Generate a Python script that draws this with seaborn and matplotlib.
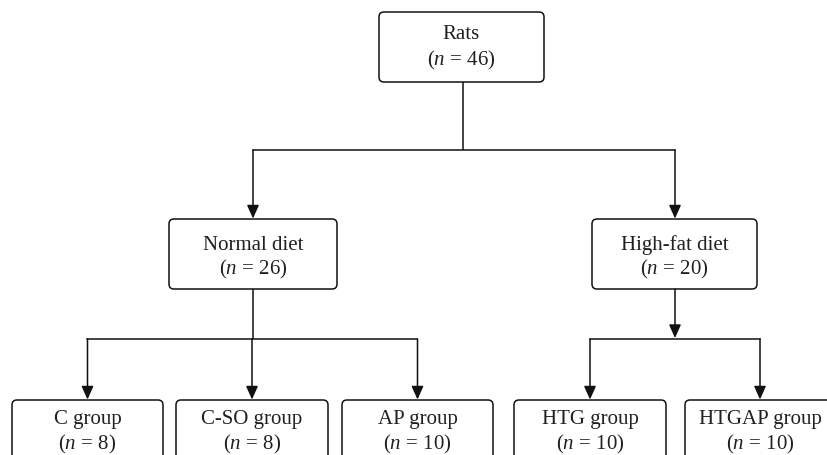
import matplotlib
matplotlib.use("Agg")
import matplotlib.pyplot as plt
from matplotlib.patches import FancyBboxPatch
import seaborn as sns

# ---- data ----
node_labels = ["Rats", "Normal diet", "High-fat diet",
               "C group", "C-SO group", "AP group", "HTG group", "HTGAP group"]
node_counts = [46, 26, 20, 8, 8, 10, 10, 10]
node_parent = [None, 0, 0, 1, 1, 1, 2, 2]
node_level = [0, 1, 1, 2, 2, 2, 2, 2]

# ---- layout (pixels, y downwards) ----
node_cx = [461.5, 253, 674.5, 87.5, 252, 417.5, 590, 760]
node_w = [165, 168, 165, 151, 152, 151, 152, 150]
level_top = [12, 219, 400]
level_h = [70, 70, 72]
level_base1 = [39, 250, 424]
level_base2 = [65, 274.5, 449.5]
bus_y = {0: 150, 1: 339, 2: 339}
stem_x = {0: 463, 1: 253, 2: 675}
stem_arrow = {0: False, 1: False, 2: True}

sns.set_theme(style="white")
plt.rcParams["font.family"] = ["Liberation Serif", "DejaVu Serif"]
plt.rcParams["mathtext.fontset"] = "custom"
plt.rcParams["mathtext.rm"] = "Liberation Serif"
plt.rcParams["mathtext.it"] = "Liberation Serif:italic"

W, H = 828, 455
fig = plt.figure(figsize=(W / 100, H / 100), dpi=100)
ax = fig.add_axes([0, 0, 1, 1])
ax.set_xlim(0, W)
ax.set_ylim(H, 0)
ax.axis("off")

LINE = "#111111"
TXT = "#231f20"
LW = 1.1

def arrow(x, y0, y1):
    ax.annotate("", xy=(x, y1), xytext=(x, y0),
                arrowprops=dict(arrowstyle="-|>,head_length=0.8,head_width=0.36",
                                mutation_scale=10, lw=LW, color=LINE,
                                shrinkA=0, shrinkB=0))

# boxes and text
for i, (lab, cnt) in enumerate(zip(node_labels, node_counts)):
    lv = node_level[i]
    x0 = node_cx[i] - node_w[i] / 2
    y0 = level_top[lv]
    box = FancyBboxPatch((x0, y0), node_w[i], level_h[lv],
                         boxstyle="round,pad=0,rounding_size=5",
                         fc="white", ec=LINE, lw=1.1, zorder=2)
    ax.add_patch(box)
    ax.text(node_cx[i], level_base1[lv], lab, ha="center", va="baseline",
            fontsize=15, color=TXT, zorder=3)
    ax.text(node_cx[i], level_base2[lv], f"($n$ = {cnt})", ha="center",
            va="baseline", fontsize=15, color=TXT, zorder=3)

# connectors
parents = sorted(set(p for p in node_parent if p is not None))
for p in parents:
    kids = [k for k, q in enumerate(node_parent) if q == p]
    plv = node_level[p]
    by = bus_y[p]
    sx = stem_x[p]
    ybot = level_top[plv] + level_h[plv]
    if stem_arrow[p]:
        arrow(sx, ybot, by - 1)
    else:
        ax.plot([sx, sx], [ybot, by], color=LINE, lw=LW, solid_capstyle="butt")
    xs = [stem_x[k] if k in stem_x else node_cx[k] for k in kids]
    ax.plot([min(xs), max(xs)], [by, by], color=LINE, lw=LW,
            solid_capstyle="projecting")
    for k, kx in zip(kids, xs):
        arrow(kx, by, level_top[node_level[k]] - 0.5)

fig.savefig("out.png", dpi=100)
